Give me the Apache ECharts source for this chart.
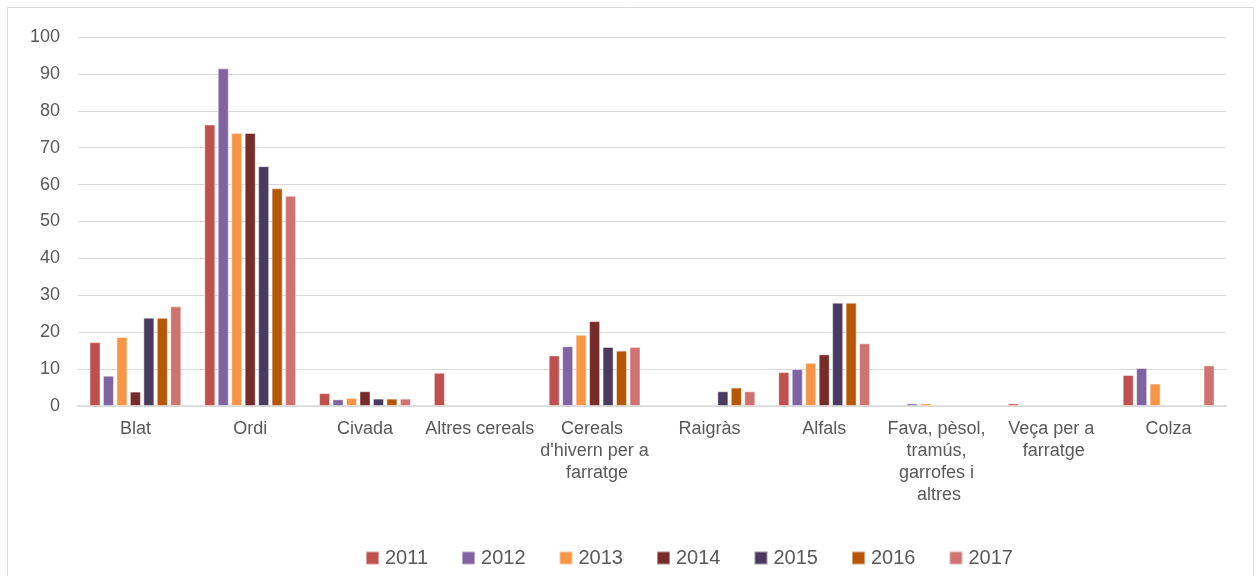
<!DOCTYPE html>
<html>
<head>
<meta charset="utf-8">
<script src="https://cdn.jsdelivr.net/npm/echarts@6/dist/echarts.min.js"></script>
<style>
  html, body { margin: 0; padding: 0; background: #fff; }
  #chart { width: 1260px; height: 576px; }
</style>
</head>
<body>
<div id="chart"></div>
<script>
const categories = [
  "Blat", "Ordi", "Civada", "Altres cereals", "Cereals d'hivern per a farratge",
  "Raigràs", "Alfals", "Fava, pèsol, tramús, garrofes i altres", "Veça per a farratge", "Colza"
];
const years = ["2011", "2012", "2013", "2014", "2015", "2016", "2017"];
const colors = ["#C0504D", "#8064A2", "#F79646", "#772C2A", "#4B3A60", "#B65708", "#CF7371"];

const v2011 = [17.3, 76.3, 3.5, 9, 13.7, null, 9.2, null, 0.7, 8.4];
const v2012 = [8.2, 91.5, 1.8, null, 16.2, null, 10, 0.7, null, 10.3];
const v2013 = [18.7, 74, 2.2, null, 19.3, null, 11.7, 0.7, null, 6.1];
const v2014 = [3.9, 74, 4, null, 23, null, 14, null, null, null];
const v2015 = [23.9, 65, 2, null, 16, 4, 28, null, null, null];
const v2016 = [23.9, 59, 2, null, 15, 5, 28, null, null, null];
const v2017 = [27, 57, 2, null, 16, 4, 17, null, null, 11];
const seriesValues = [v2011, v2012, v2013, v2014, v2015, v2016, v2017];

const yTicks = { min: 0, max: 100, interval: 10 };

const chart = echarts.init(document.getElementById("chart"));
chart.setOption({
  backgroundColor: "#fff",
  animation: false,
  textStyle: { fontFamily: "Liberation Sans, Arial, sans-serif" },
  graphic: [{
    type: "rect",
    shape: { x: 7.5, y: 7.5, width: 1246, height: 620 },
    style: { fill: "none", stroke: "#D9D9D9", lineWidth: 1 },
    silent: true
  }],
  legend: {
    data: years,
    left: 360,
    top: 543,
    itemWidth: 13,
    itemHeight: 13,
    itemGap: 33,
    icon: "rect",
    textStyle: { color: "#595959", fontSize: 20, padding: [0, 0, 0, 1] }
  },
  grid: { left: 78, right: 34, top: 37, bottom: 170, containLabel: false },
  xAxis: {
    type: "category",
    data: categories,
    axisTick: { show: false },
    axisLine: { lineStyle: { color: "#D9D9D9", width: 1.5 } },
    axisLabel: {
      interval: 0,
      color: "#595959",
      fontSize: 18,
      lineHeight: 22,
      margin: 12,
      width: 112,
      overflow: "break"
    }
  },
  yAxis: {
    type: "value",
    min: yTicks.min,
    max: yTicks.max,
    interval: yTicks.interval,
    axisLine: { show: false },
    axisTick: { show: false },
    axisLabel: { color: "#595959", fontSize: 18, margin: 18 },
    splitLine: { lineStyle: { color: "#D9D9D9", width: 1.2 } }
  },
  series: years.map((y, i) => ({
    name: y,
    type: "bar",
    data: seriesValues[i],
    barGap: "22%",
    barCategoryGap: "20%",
    itemStyle: {
      color: colors[i],
      borderColor: "rgba(255,255,255,0.45)",
      borderWidth: 1
    }
  }))
});
</script>
</body>
</html>
